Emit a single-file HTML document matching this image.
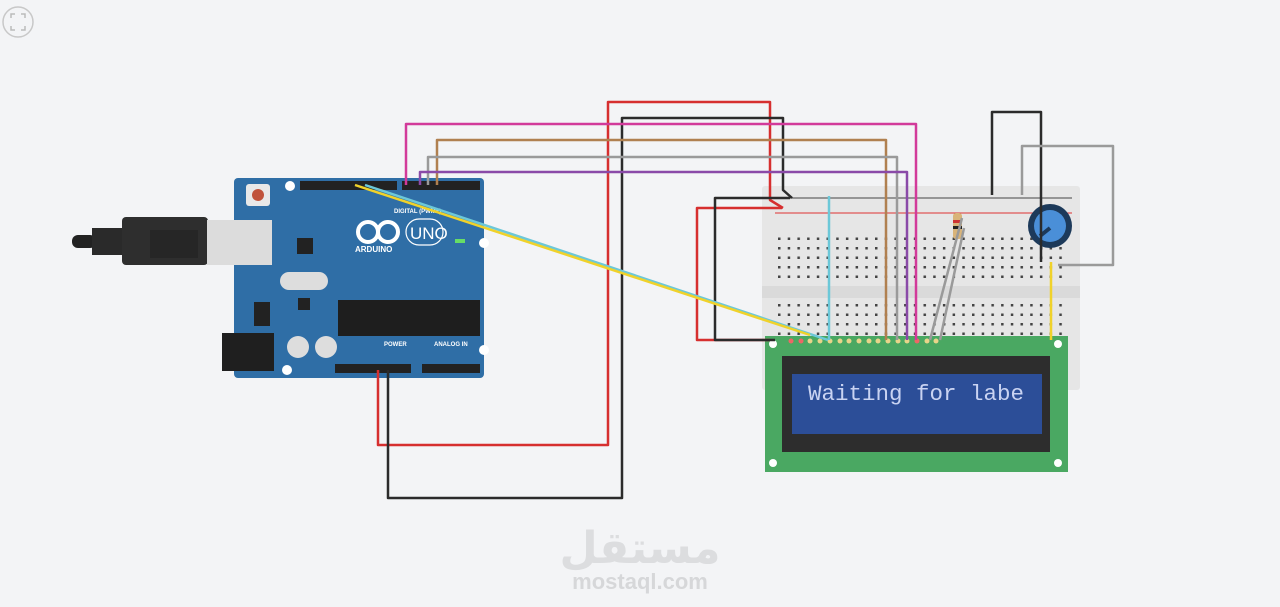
<!DOCTYPE html>
<html><head><meta charset="utf-8"><style>
html,body{margin:0;padding:0;background:#f3f4f6;}
svg{display:block}
</style></head><body>
<svg width="1280" height="607" viewBox="0 0 1280 607" xmlns="http://www.w3.org/2000/svg" font-family="Liberation Sans, sans-serif">
<rect width="1280" height="607" fill="#f3f4f6"/>
<circle cx="18" cy="22" r="15" fill="none" stroke="#c8c8c8" stroke-width="1.5"/>
<path d="M11 18v-4h4M21 14h4v4M25 26v4h-4M15 30h-4v-4" stroke="#bbb" fill="none" stroke-width="1.5"/>

<!-- Breadboard -->
<rect x="762" y="186" width="318" height="204" rx="3" fill="#e6e6e6"/>
<rect x="762" y="286" width="318" height="12" fill="#dadada"/>
<line x1="775" y1="198" x2="1072" y2="198" stroke="#444" stroke-width="1"/>
<line x1="775" y1="213" x2="1072" y2="213" stroke="#d33" stroke-width="1"/>
<pattern id="rail" x="780" y="0" width="9.7" height="9.5" patternUnits="userSpaceOnUse"><rect x="0" y="0" width="2" height="2" fill="#555"/></pattern>
<rect x="780" y="203" width="290" height="3" fill="url(#rail)"/>
<pattern id="holes" x="778" y="0" width="9.7" height="9.5" patternUnits="userSpaceOnUse"><rect x="0" y="0" width="2.5" height="2.5" fill="#444"/></pattern>
<rect x="778" y="233" width="290" height="50" fill="url(#holes)"/>
<rect x="778" y="300" width="290" height="40" fill="url(#holes)"/>

<!-- LCD -->
<rect x="765" y="336" width="303" height="136" fill="#4aa862"/>
<circle cx="773" cy="344" r="4" fill="#fff"/><circle cx="1058" cy="344" r="4" fill="#fff"/>
<circle cx="773" cy="463" r="4" fill="#fff"/><circle cx="1058" cy="463" r="4" fill="#fff"/>
<g fill="#e8d48a"><circle cx="791" cy="341" r="2.5" fill="#e66"/><circle cx="801" cy="341" r="2.5" fill="#e66"/><circle cx="810" cy="341" r="2.5"/><circle cx="820" cy="341" r="2.5"/><circle cx="830" cy="341" r="2.5"/><circle cx="840" cy="341" r="2.5"/><circle cx="849" cy="341" r="2.5"/><circle cx="859" cy="341" r="2.5"/><circle cx="869" cy="341" r="2.5"/><circle cx="878" cy="341" r="2.5"/><circle cx="888" cy="341" r="2.5"/><circle cx="898" cy="341" r="2.5"/><circle cx="907" cy="341" r="2.5"/><circle cx="917" cy="341" r="2.5" fill="#e66"/><circle cx="927" cy="341" r="2.5"/><circle cx="936" cy="341" r="2.5"/></g>
<rect x="782" y="356" width="268" height="96" fill="#2d2d2d"/>
<rect x="792" y="374" width="250" height="60" fill="#2c4e98"/>
<text x="808" y="400" font-family="Liberation Mono, monospace" font-size="22.5" fill="#c9d3f2">Waiting for labe</text>

<!-- USB -->
<rect x="72" y="235" width="24" height="13" rx="6" fill="#222"/>
<rect x="92" y="228" width="32" height="27" fill="#2a2a2a"/>
<rect x="122" y="217" width="86" height="48" rx="4" fill="#2e2e2e"/>
<rect x="150" y="230" width="48" height="28" fill="#262626"/>
<!-- Arduino board -->
<rect x="234" y="178" width="250" height="200" rx="4" fill="#2f6ea6"/>
<rect x="207" y="220" width="65" height="45" fill="#dcdcdc"/>
<rect x="222" y="333" width="52" height="38" fill="#1f1f1f"/>
<rect x="246" y="184" width="24" height="22" rx="3" fill="#e8e8e8"/><circle cx="258" cy="195" r="6" fill="#c0523a"/>
<circle cx="290" cy="186" r="5" fill="#fff"/><circle cx="484" cy="243" r="5" fill="#fff"/><circle cx="484" cy="350" r="5" fill="#fff"/><circle cx="287" cy="370" r="5" fill="#fff"/>
<rect x="300" y="181" width="97" height="9" fill="#222"/>
<rect x="402" y="181" width="78" height="9" fill="#222"/>
<rect x="338" y="300" width="142" height="36" fill="#1e1e1e"/>
<rect x="297" y="238" width="16" height="16" fill="#222"/>
<rect x="280" y="272" width="48" height="18" rx="9" fill="#ddd"/>
<rect x="298" y="298" width="12" height="12" fill="#222"/>
<rect x="254" y="302" width="16" height="24" fill="#222"/>
<circle cx="298" cy="347" r="11" fill="#ddd"/><circle cx="326" cy="347" r="11" fill="#ddd"/>
<circle cx="368" cy="232" r="10" fill="none" stroke="#fff" stroke-width="4"/>
<circle cx="388" cy="232" r="10" fill="none" stroke="#fff" stroke-width="4"/>
<rect x="406" y="219" width="37" height="26" rx="13" fill="none" stroke="#fff" stroke-width="1.2"/>
<text x="410" y="239" font-size="17" fill="#fff">UNO</text>
<text x="355" y="252" font-size="8" font-weight="bold" fill="#fff">ARDUINO</text>
<text x="394" y="213" font-size="6" font-weight="bold" fill="#fff">DIGITAL (PWM~)</text>
<text x="384" y="346" font-size="6" font-weight="bold" fill="#fff">POWER</text>
<text x="434" y="346" font-size="6" font-weight="bold" fill="#fff">ANALOG IN</text>
<rect x="455" y="239" width="10" height="4" fill="#6d6"/>
<rect x="335" y="364" width="76" height="9" fill="#222"/>
<rect x="422" y="364" width="58" height="9" fill="#222"/>

<!-- Potentiometer -->
<circle cx="1050" cy="226" r="22" fill="#1d3a5a"/>
<circle cx="1050" cy="226" r="16" fill="#4a8fd8"/>
<line x1="1050" y1="228" x2="1040" y2="236" stroke="#1d3a5a" stroke-width="4"/>
<rect x="953" y="213" width="9" height="26" rx="3" fill="#d9b47a"/>
<rect x="953" y="220" width="9" height="3" fill="#c33"/><rect x="953" y="226" width="9" height="3" fill="#222"/>

<g fill="none" stroke-width="2.5" stroke-linejoin="round">
<polyline points="378,370 378,445 608,445 608,102 770,102 770,200 783,208" stroke="#d62f2f"/>
<polyline points="782,208 697,208 697,340 770,340" stroke="#d62f2f"/>
<polyline points="388,370 388,498 622,498 622,118 783,118 783,190 792,198" stroke="#2b2b2b"/>
<polyline points="790,198 715,198 715,340 775,340" stroke="#2b2b2b"/>
<polyline points="406,185 406,124 916,124 916,340" stroke="#d23a9a"/>
<polyline points="437,185 437,140 886,140 886,340" stroke="#b08050"/>
<polyline points="428,185 428,157 897,157 897,340" stroke="#9a9a9a"/>
<polyline points="420,185 420,172 907,172 907,340" stroke="#8a4aa8"/>
<polyline points="365,185 828,340" stroke="#6cc8d8"/>
<polyline points="829,196 829,340" stroke="#6cc8d8"/>
<polyline points="355,185 810,335" stroke="#f0d22a"/>
<polyline points="992,195 992,112 1041,112 1041,262" stroke="#2b2b2b"/>
<polyline points="1022,195 1022,146 1113,146 1113,265 1058,265" stroke="#9a9a9a"/>
<polyline points="1051,262 1051,340" stroke="#f0d22a"/>
<polyline points="962,218 930,340" stroke="#9a9a9a"/>
<polyline points="964,228 940,340" stroke="#9a9a9a"/>
</g>

<text x="640" y="563" text-anchor="middle" font-family="'DejaVu Sans', sans-serif" font-size="44" font-weight="bold" fill="#dcdddf">مستقل</text>
<text x="640" y="589" text-anchor="middle" font-size="22" font-weight="bold" fill="#d6d7d9">mostaql.com</text>
</svg>
</body></html>
